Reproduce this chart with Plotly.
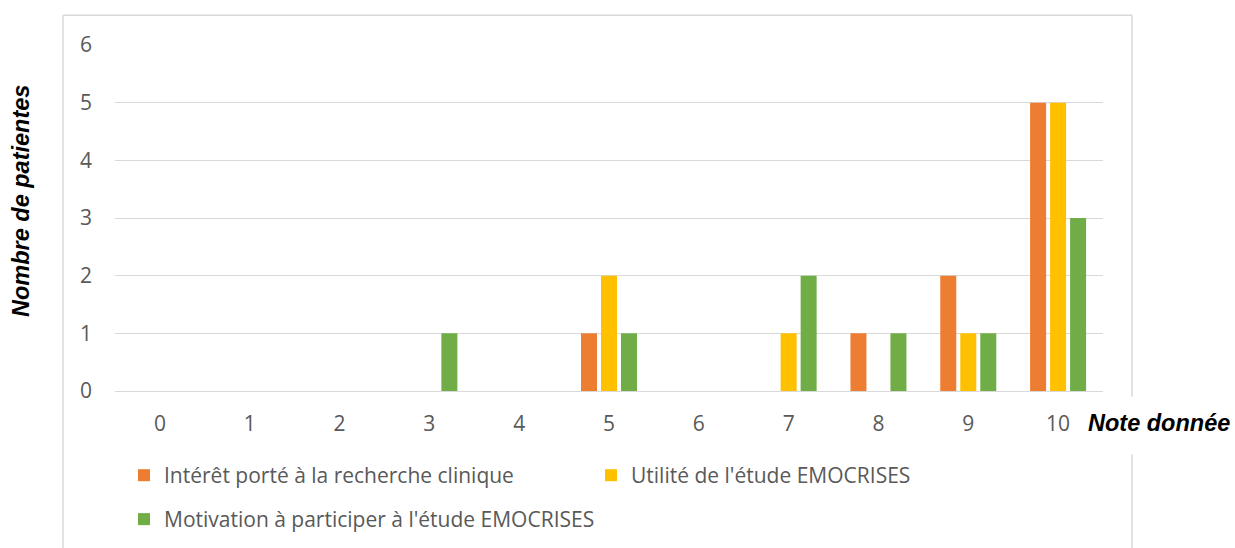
import plotly.graph_objects as go

categories = [str(i) for i in range(11)]
series_names = [
    "Intérêt porté à la recherche clinique",
    "Utilité de l'étude EMOCRISES",
    "Motivation à participer à l'étude EMOCRISES",
]
interet = [0, 0, 0, 0, 0, 1, 0, 0, 1, 2, 5]
utilite = [0, 0, 0, 0, 0, 2, 0, 1, 0, 1, 5]
motivation = [0, 0, 0, 1, 0, 1, 0, 2, 1, 1, 3]
colors = ["#ED7D31", "#FFC000", "#70AD47"]
y_ticks = [0, 1, 2, 3, 4, 5, 6]

W, H = 1235, 548
L, R, T, B = 115, 1103, 44.7, 391.3
pw, ph = R - L, B - T

def px(x):
    return (x - L) / pw

def py(y):
    return (B - y) / ph

fig = go.Figure()
for name, vals, col, lg in zip(series_names, [interet, utilite, motivation], colors,
                               ["legend", "legend2", "legend3"]):
    fig.add_trace(go.Bar(x=categories, y=vals, name=name, marker_color=col,
                         marker_line_width=0, legend=lg))

grid = "#D9D9D9"
tickfont = dict(family="Open Sans, Arial, sans-serif", size=21, color="#595959")
legfont = dict(family="Open Sans, Arial, sans-serif", size=21, color="#595959")

fig.update_layout(
    width=W, height=H,
    margin=dict(l=L, r=W - R, t=T, b=H - B, autoexpand=False),
    paper_bgcolor="white", plot_bgcolor="white",
    barmode="group", bargap=0.332, bargroupgap=0.2,
    font=tickfont,
    xaxis=dict(type="category", showgrid=False, zeroline=False, showline=False,
               ticks="", tickfont=tickfont, ticklabelstandoff=18),
    yaxis=dict(range=[0, 6], tickvals=y_ticks, showgrid=True, gridcolor=grid, gridwidth=1.4,
               zeroline=True, zerolinecolor=grid, zerolinewidth=1.4, showline=False,
               ticks="", tickfont=tickfont, ticklabelstandoff=22),
    legend=dict(orientation="h", x=px(124), y=py(476), xanchor="left", yanchor="middle",
                font=legfont, bgcolor="rgba(0,0,0,0)"),
    legend2=dict(orientation="h", x=px(591), y=py(476), xanchor="left", yanchor="middle",
                 font=legfont, bgcolor="rgba(0,0,0,0)"),
    legend3=dict(orientation="h", x=px(124), y=py(520), xanchor="left", yanchor="middle",
                 font=legfont, bgcolor="rgba(0,0,0,0)"),
    showlegend=True,
)

border = dict(color=grid, width=1.5)
for x0, y0, x1, y1 in [(63, 15, 1132, 15), (63, 15, 63, 560), (1132, 15, 1132, 397),
                       (1132, 455, 1132, 560)]:
    fig.add_shape(type="line", xref="paper", yref="paper", x0=px(x0), y0=py(y0),
                  x1=px(x1), y1=py(y1), line=border, layer="below")

titlefont = dict(family="Liberation Sans, Arial, sans-serif", size=23.5, color="black")
fig.add_annotation(text="<b><i>Nombre de patientes</i></b>", xref="paper", yref="paper",
                   x=px(21), y=py(201), textangle=-90, showarrow=False,
                   xanchor="center", yanchor="middle", font=titlefont)
fig.add_annotation(text="<b><i>Note donnée</i></b>", xref="paper", yref="paper",
                   x=px(1086), y=py(423), showarrow=False,
                   xanchor="left", yanchor="middle", font=titlefont)

fig.write_html(
    "out.html",
    config={"displayModeBar": False},
    post_script="document.body.style.margin='0';document.body.style.overflow='hidden';",
)
